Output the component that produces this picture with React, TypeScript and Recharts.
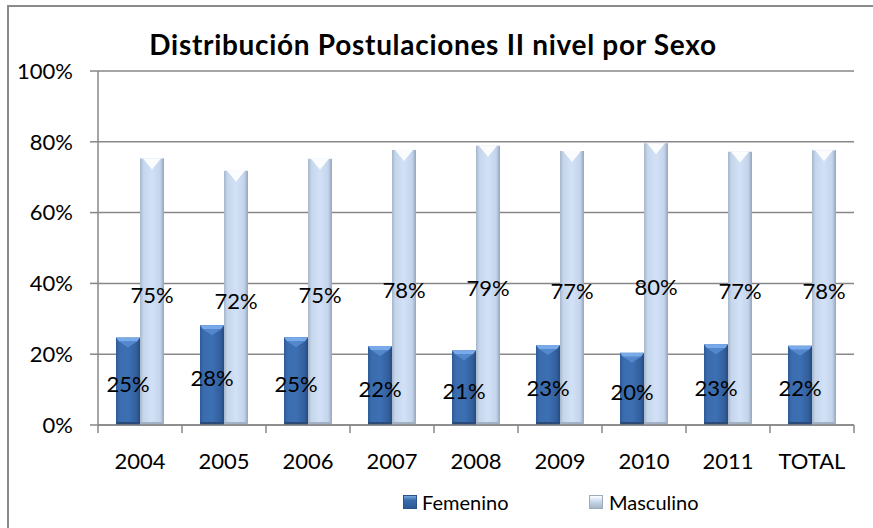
import React from "react";
import { BarChart, Bar, XAxis, YAxis, CartesianGrid, LabelList } from "recharts";

const years = ["2004", "2005", "2006", "2007", "2008", "2009", "2010", "2011", "TOTAL"];
const femenino = [24.7, 28.2, 24.8, 22.3, 21.1, 22.6, 20.4, 22.8, 22.4];
const masculino = [75.3, 71.8, 75.2, 77.7, 78.9, 77.4, 79.6, 77.2, 77.6];
const yTicks = [0, 20, 40, 60, 80, 100];

const W = 873;
const H = 528;
const PLOT_LEFT = 98;
const PLOT_RIGHT = 854;
const PLOT_TOP = 71;
const PLOT_BOTTOM = 425;
const BAND = (PLOT_RIGHT - PLOT_LEFT) / years.length;
const AXIS = "#878787";
const FONT = "Lato, 'Open Sans', sans-serif";

const data = years.map((year, i) => ({
  year,
  femenino: femenino[i],
  masculino: masculino[i],
}));

function FemShape(props: any) {
  const { x, y, width, height } = props;
  if (!height || height <= 0) return null;
  const cx = x + width / 2;
  return (
    <g>
      <rect x={x} y={y} width={width} height={height} fill="url(#femGrad)" />
      <polygon
        points={`${x},${y} ${x + width},${y} ${x + width - 3},${y + 4} ${x + 3},${y + 4}`}
        fill="#78aaea"
      />
      <polygon
        points={`${x + 3},${y + 4} ${x + width - 3},${y + 4} ${cx},${y + 10}`}
        fill="#5a8fd4"
        opacity={0.8}
      />
      <rect x={x} y={y + height - 3} width={width} height={3} fill="#2a4a78" />
    </g>
  );
}

function MascShape(props: any) {
  const { x, y, width, height } = props;
  if (!height || height <= 0) return null;
  const cx = x + width / 2;
  return (
    <g>
      <rect x={x} y={y} width={width} height={height} fill="url(#mascGrad)" />
      <polygon
        points={`${x + 3},${y} ${x + width - 3},${y} ${cx},${y + 11}`}
        fill="#ffffff"
        opacity={0.9}
      />
      <rect x={x} y={y + height - 3} width={width} height={3} fill="#a3b1c4" />
    </g>
  );
}

function ValueLabel(props: any) {
  const { x, y, width, height, value } = props;
  const cx = Number(x) + Number(width) / 2;
  const cy = Number(y) + Number(height) / 2;
  return (
    <text
      x={cx}
      y={cy + 11}
      textAnchor="middle"
      fill="#000"
      fontSize={22}
      fontFamily={FONT}
    >
      {`${Math.round(Number(value))}%`}
    </text>
  );
}

function XTick(props: any) {
  const { x, payload, index } = props;
  const half = BAND / 2;
  return (
    <g>
      <line x1={x - half} x2={x - half} y1={PLOT_BOTTOM} y2={PLOT_BOTTOM + 8} stroke={AXIS} strokeWidth={1.5} />
      {index === years.length - 1 && (
        <line x1={x + half} x2={x + half} y1={PLOT_BOTTOM} y2={PLOT_BOTTOM + 8} stroke={AXIS} strokeWidth={1.5} />
      )}
      <text x={x} y={PLOT_BOTTOM + 44} textAnchor="middle" fill="#000" fontSize={22} fontFamily={FONT}>
        {payload.value}
      </text>
    </g>
  );
}

function LegendIcon({ kind }: { kind: "fem" | "masc" }) {
  const fill =
    kind === "fem"
      ? "linear-gradient(180deg, #7aa8e0 0%, #3a6cad 35%, #2e5a96 100%)"
      : "linear-gradient(180deg, #ffffff 0%, #cddcf0 40%, #a7b5c8 100%)";
  return (
    <span
      style={{
        display: "inline-block",
        width: 14,
        height: 14,
        background: fill,
        border: kind === "fem" ? "1px solid #2d5288" : "1px solid #9eabbd",
        boxSizing: "border-box",
      }}
    />
  );
}

export default function App() {
  return (
    <div style={{ position: "absolute", left: 0, top: 0, width: W, height: H, background: "#fff", overflow: "hidden" }}>
      <div
        style={{
          position: "absolute",
          left: 7,
          top: 5,
          width: W,
          height: H,
          borderLeft: "2px solid #8a8a8a",
          borderTop: "2px solid #8a8a8a",
        }}
      />
      <div
        style={{
          position: "absolute",
          left: 0,
          top: 28,
          width: 866,
          textAlign: "center",
          fontFamily: FONT,
          fontWeight: 700,
          fontSize: 28,
          letterSpacing: 0.7,
          lineHeight: "32px",
          color: "#000",
        }}
      >
        Distribución Postulaciones II nivel por Sexo
      </div>
      <BarChart
        width={W}
        height={H}
        data={data}
        margin={{ top: PLOT_TOP, right: W - PLOT_RIGHT, bottom: 63, left: 8 }}
        barGap={0}
        barSize={24}
        style={{ position: "absolute", left: 0, top: 0 }}
      >
        <defs>
          <linearGradient id="femGrad" x1="0" y1="0" x2="1" y2="0">
            <stop offset="0%" stopColor="#2d5a97" />
            <stop offset="15%" stopColor="#3a6cae" />
            <stop offset="50%" stopColor="#3d70b3" />
            <stop offset="85%" stopColor="#335f9d" />
            <stop offset="100%" stopColor="#264b7e" />
          </linearGradient>
          <linearGradient id="mascGrad" x1="0" y1="0" x2="1" y2="0">
            <stop offset="0%" stopColor="#a6b5c9" />
            <stop offset="14%" stopColor="#c5d6ec" />
            <stop offset="50%" stopColor="#d2e1f6" />
            <stop offset="84%" stopColor="#c3d4ec" />
            <stop offset="100%" stopColor="#96a5ba" />
          </linearGradient>
        </defs>
        <CartesianGrid vertical={false} stroke={AXIS} strokeWidth={1.5} />
        <XAxis
          dataKey="year"
          height={40}
          axisLine={{ stroke: AXIS, strokeWidth: 1.5 }}
          tickLine={false}
          tickSize={0}
          tick={<XTick />}
          interval={0}
        />
        <YAxis
          width={90}
          domain={[0, 100]}
          ticks={yTicks}
          tickFormatter={(v: number) => `${v}%`}
          axisLine={{ stroke: AXIS, strokeWidth: 1.5 }}
          tickLine={{ stroke: AXIS, strokeWidth: 1.5 }}
          tickSize={8}
          tickMargin={17}
          tick={{ fill: "#000", fontSize: 22, fontFamily: FONT }}
        />
        <Bar dataKey="femenino" name="Femenino" shape={<FemShape />} isAnimationActive={false}>
          <LabelList dataKey="femenino" content={<ValueLabel />} />
        </Bar>
        <Bar dataKey="masculino" name="Masculino" shape={<MascShape />} isAnimationActive={false}>
          <LabelList dataKey="masculino" content={<ValueLabel />} />
        </Bar>
      </BarChart>
      <div style={{ position: "absolute", left: 403, top: 490, display: "flex", alignItems: "center", gap: 5, fontFamily: FONT, fontSize: 20 }}>
        <LegendIcon kind="fem" />
        <span>Femenino</span>
      </div>
      <div style={{ position: "absolute", left: 589, top: 490, display: "flex", alignItems: "center", gap: 6, fontFamily: FONT, fontSize: 20 }}>
        <LegendIcon kind="masc" />
        <span>Masculino</span>
      </div>
    </div>
  );
}
